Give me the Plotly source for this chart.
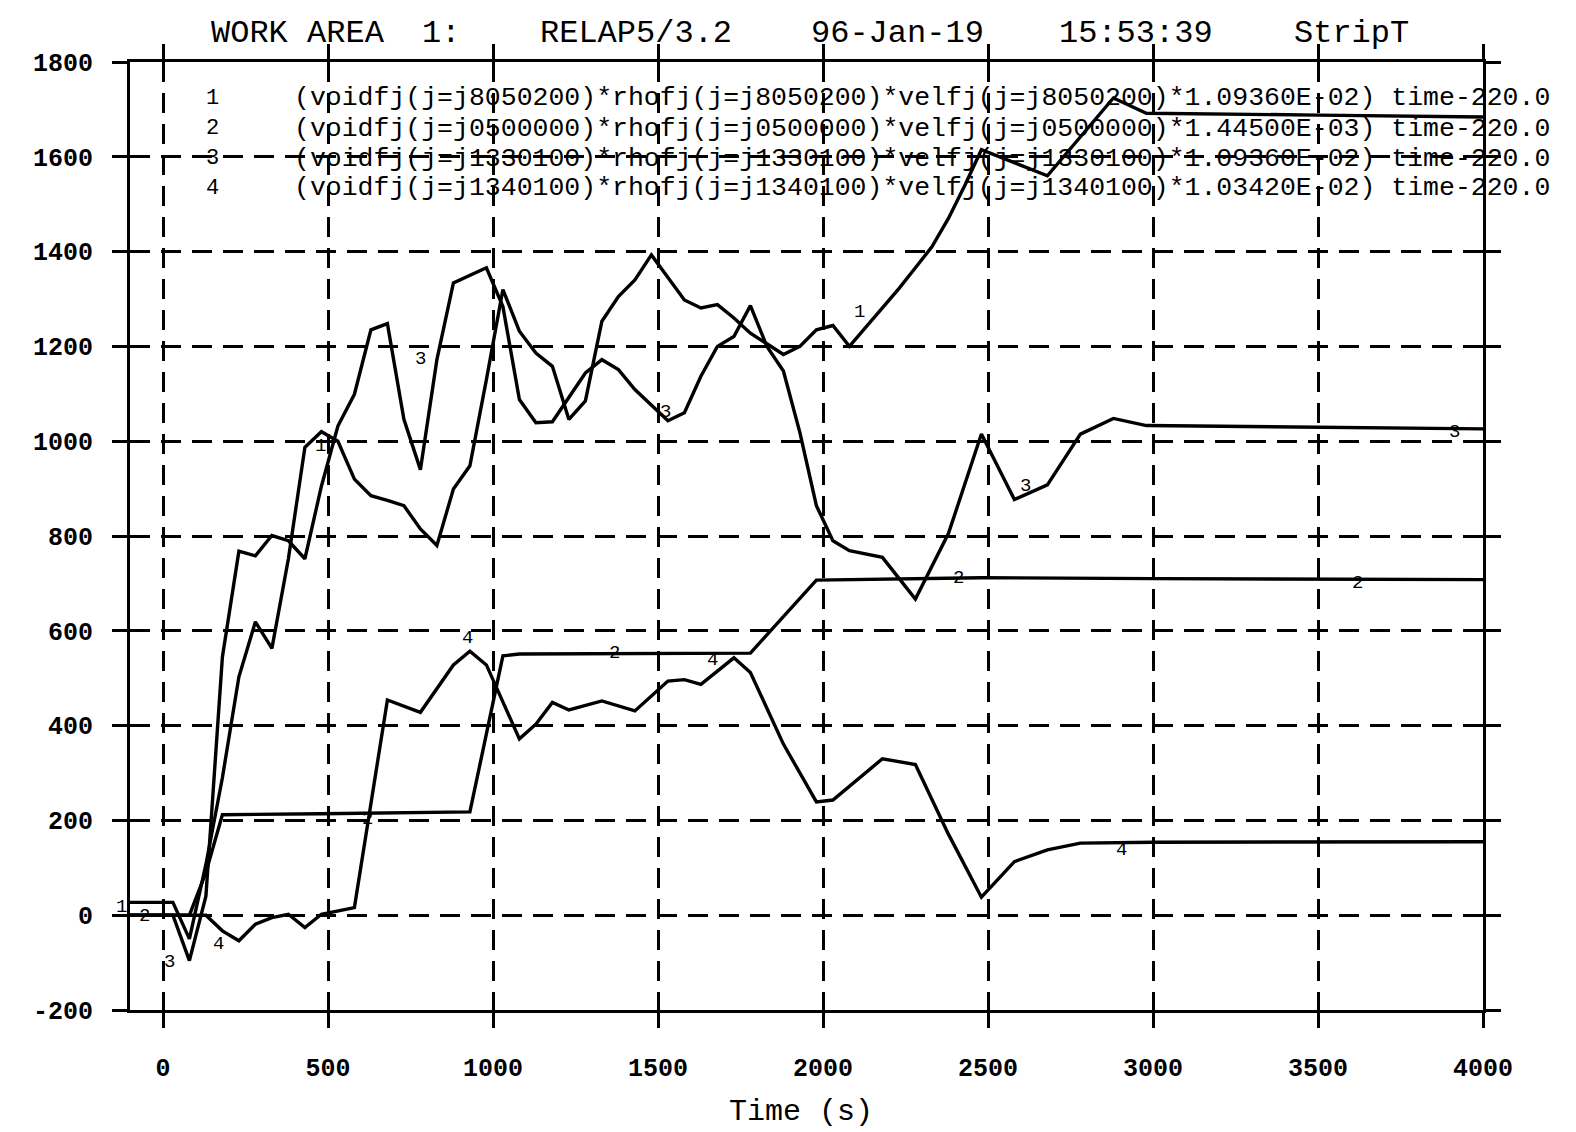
import plotly.graph_objects as go

# ---------------- data ----------------
t1 = [-100, 30, 80, 130, 180, 230, 280, 330, 380, 430, 480, 530, 580, 630, 680, 730, 780, 830, 880, 930,
      980, 1030, 1080, 1130, 1180, 1230, 1280, 1330, 1380, 1430, 1480, 1580, 1630, 1680, 1730, 1780, 1880, 1930, 1980, 2030,
      2080, 2130, 2180, 2230, 2280, 2330, 2380, 2430, 2480, 2680, 2880, 2980, 3500, 4000]
v1 = [27, 27, -50, 107, 290, 503, 619, 563, 752, 987, 1020, 1000, 920, 885, 875, 864, 815, 780, 899, 948,
      1130, 1320, 1232, 1186, 1158, 1046, 1085, 1253, 1305, 1340, 1393, 1298, 1281, 1288, 1260, 1228, 1183, 1200, 1235, 1244,
      1200, 1240, 1280, 1322, 1366, 1410, 1470, 1540, 1615, 1560, 1724, 1692, 1688, 1684]

t2 = [-100, 80, 130, 180, 480, 930, 1030, 1080, 1780, 1980, 2480, 3000, 4000]
v2 = [0, 0, 90, 212, 214, 218, 547, 551, 553, 707, 712, 710, 708]

t3 = [-100, 30, 80, 130, 180, 230, 280, 330, 380, 430, 480, 530, 580, 630, 680, 730, 780, 830, 880, 980,
      1030, 1080, 1130, 1180, 1280, 1330, 1380, 1430, 1530, 1580, 1630, 1680, 1730, 1780, 1830, 1880, 1930, 1980, 2030, 2080,
      2180, 2280, 2380, 2480, 2580, 2680, 2780, 2880, 2980, 4000]
v3 = [0, 0, -96, 40, 545, 768, 758, 801, 790, 752, 905, 1032, 1099, 1235, 1248, 1046, 940, 1172, 1334, 1366,
      1284, 1088, 1039, 1041, 1144, 1172, 1151, 1109, 1043, 1060, 1137, 1200, 1221, 1286, 1200, 1148, 1018, 864, 790, 769,
      755, 667, 805, 1015, 877, 908, 1015, 1048, 1033, 1026]

t4 = [-100, 130, 180, 230, 280, 330, 380, 430, 480, 580, 680, 780, 880, 930, 980, 1080, 1130, 1180, 1230, 1330,
      1430, 1530, 1580, 1630, 1680, 1730, 1780, 1880, 1980, 2030, 2180, 2280, 2380, 2480, 2580, 2680, 2780, 3000, 4000]
v4 = [0, 0, -33, -54, -19, -5, 2, -26, 2, 16, 454, 428, 528, 557, 528, 372, 403, 449, 433, 452,
      431, 494, 497, 487, 515, 543, 512, 361, 239, 243, 330, 318, 171, 38, 113, 138, 152, 154, 155]

series_ids = ["1", "2", "3", "4"]
series_exprs = [
    "(voidfj(j=j8050200)*rhofj(j=j8050200)*velfj(j=j8050200)*1.09360E-02) time-220.0",
    "(voidfj(j=j0500000)*rhofj(j=j0500000)*velfj(j=j0500000)*1.44500E-03) time-220.0",
    "(voidfj(j=j1330100)*rhofj(j=j1330100)*velfj(j=j1330100)*1.09360E-02) time-220.0",
    "(voidfj(j=j1340100)*rhofj(j=j1340100)*velfj(j=j1340100)*1.03420E-02) time-220.0",
]
x_ticks = [0, 500, 1000, 1500, 2000, 2500, 3000, 3500, 4000]
y_ticks = [-200, 0, 200, 400, 600, 800, 1000, 1200, 1400, 1600, 1800]
header_parts = ["WORK AREA", "1:", "RELAP5/3.2", "96-Jan-19", "15:53:39", "StripT"]

# ---------------- layout helpers ----------------
W, H = 1576, 1132
BODY = 8                      # default page margin around the plot div
L, R, T, B = 130, 1483, 62, 1010   # plot area in page pixels
FONT = "Liberation Mono, Courier New, monospace"


def pxx(x):
    return (x - L) / (R - L)


def pxy(y):
    return (B - y) / (B - T)


fig = go.Figure()
for t, v in [(t1, v1), (t2, v2), (t3, v3), (t4, v4)]:
    fig.add_trace(go.Scatter(x=t, y=v, mode="lines",
                             line=dict(color="black", width=3.4),
                             showlegend=False, hoverinfo="skip"))

axis_common = dict(
    showgrid=True, gridcolor="black", gridwidth=2.6, griddash="20px,11px",
    showline=True, linecolor="black", linewidth=3, mirror="allticks",
    ticks="outside", ticklen=15, tickwidth=2.5, tickcolor="black",
    zeroline=False,
    tickfont=dict(family=FONT, size=25, color="black", weight="bold"),
)

ml, mt = L - BODY, T - BODY
mr = W - ml - (R - L)
mb = H - mt - (B - T)

fig.update_layout(
    width=W, height=H, autosize=False,
    margin=dict(l=ml, r=mr, t=mt, b=mb, pad=0),
    paper_bgcolor="white", plot_bgcolor="white",
    xaxis=dict(range=[-100, 4000], tickmode="array", tickvals=x_ticks,
               ticktext=[str(v) for v in x_ticks], ticklabelstandoff=18, **axis_common),
    yaxis=dict(range=[-200, 1800], tickmode="array", tickvals=y_ticks,
               ticktext=[str(v) for v in y_ticks], ticklabelstandoff=14, **axis_common),
)

ann = []
# header line
header_x = [209, 420, 538, 809, 1057, 1292]
for txt, hx in zip(header_parts, header_x):
    ann.append(dict(text=txt, x=pxx(hx), y=pxy(34), xref="paper", yref="paper",
                    xanchor="left", yanchor="middle", showarrow=False,
                    font=dict(family=FONT, size=32, color="black")))

# legend lines inside the plot
leg_y = [98.5, 128.6, 158.8, 188]
for sid, expr, ly in zip(series_ids, series_exprs, leg_y):
    ann.append(dict(text=sid, x=pxx(212), y=pxy(ly), xref="paper", yref="paper",
                    xanchor="center", yanchor="middle", showarrow=False,
                    font=dict(family=FONT, size=22, color="black")))
    ann.append(dict(text=expr, x=pxx(292), y=pxy(ly), xref="paper", yref="paper",
                    xanchor="left", yanchor="middle", showarrow=False,
                    font=dict(family=FONT, size=26.5, color="black")))

# axis title
ann.append(dict(text="Time (s)", x=pxx(801), y=pxy(1112), xref="paper", yref="paper",
                xanchor="center", yanchor="middle", showarrow=False,
                font=dict(family=FONT, size=30, color="black")))

# curve labels along the lines
curve_labels = [
    ("1", 121, 907), ("2", 144, 916), ("3", 169, 962), ("4", 218, 944),
    ("1", 320, 446), ("3", 420, 359), ("2", 367, 819), ("4", 467, 638),
    ("3", 665, 412), ("2", 614, 653), ("4", 712, 660), ("1", 859, 312),
    ("2", 958, 578), ("3", 1025, 486), ("4", 1121, 850), ("2", 1357, 583),
    ("3", 1454, 432),
]
for txt, lx, ly in curve_labels:
    ann.append(dict(text=txt, x=pxx(lx), y=pxy(ly), xref="paper", yref="paper",
                    xanchor="center", yanchor="middle", showarrow=False,
                    font=dict(family=FONT, size=19, color="black")))

fig.update_layout(annotations=ann)
fig.write_html("out.html")
